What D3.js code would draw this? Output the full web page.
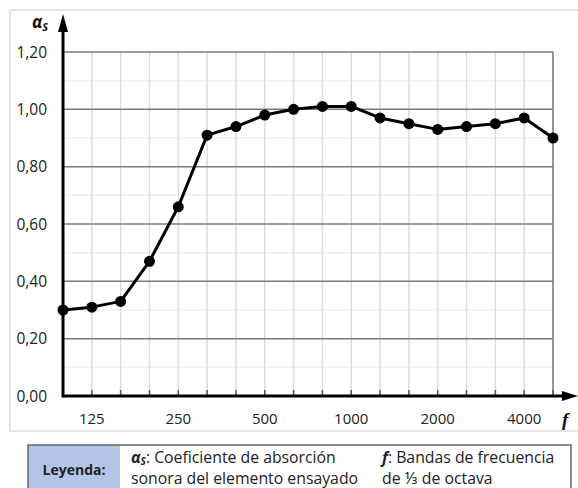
<!DOCTYPE html>
<html><head><meta charset="utf-8">
<script src="https://cdn.jsdelivr.net/npm/d3@7"></script>
<style>body{margin:0;background:#fff}svg{display:block;font-family:"Open Sans","Noto Sans",sans-serif}</style>
</head><body>
<script>
const bands = ["100","125","160","200","250","315","400","500","630","800","1000","1250","1600","2000","2500","3150","4000","5000"];
const alphaS = [0.30,0.31,0.33,0.47,0.66,0.91,0.94,0.98,1.00,1.01,1.01,0.97,0.95,0.93,0.94,0.95,0.97,0.90];
const xLabels = ["125","250","500","1000","2000","4000"];
const yTicks = [0,0.2,0.4,0.6,0.8,1.0,1.2];
const yMinor = [0.1,0.3,0.5,0.7,0.9,1.1];

const W=578,H=488;
const svg=d3.select("body").append("svg").attr("width",W).attr("height",H);
const L=63,R=553,T=52,B=396;
const x=d3.scalePoint().domain(bands).range([L,R]);
const y=d3.scaleLinear().domain([0,1.2]).range([B,T]);

// outer frame
svg.append("path").attr("d",`M10,10 H578 M10,10 V431 H578`).attr("fill","none").attr("stroke","#e4e4e4").attr("stroke-width",2);

// minor horizontal grid
svg.append("g").selectAll("line").data(yMinor).join("line")
 .attr("x1",L).attr("x2",R).attr("y1",d=>y(d)).attr("y2",d=>y(d)).attr("stroke","#efefef").attr("stroke-width",1.5);
// vertical grid
svg.append("g").selectAll("line").data(bands.slice(1)).join("line")
 .attr("x1",d=>x(d)).attr("x2",d=>x(d)).attr("y1",T).attr("y2",B).attr("stroke","#dcdcdc").attr("stroke-width",1.5);
// major horizontal
svg.append("g").selectAll("line").data(yTicks.slice(1)).join("line")
 .attr("x1",L).attr("x2",R).attr("y1",d=>y(d)).attr("y2",d=>y(d)).attr("stroke","#7a7a7a").attr("stroke-width",1.5);
// right border
svg.append("line").attr("x1",R).attr("x2",R).attr("y1",T).attr("y2",B).attr("stroke","#7a7a7a").attr("stroke-width",1.5);
// x ticks
svg.append("g").selectAll("line").data(bands.slice(1)).join("line")
 .attr("x1",d=>x(d)).attr("x2",d=>x(d)).attr("y1",B-6).attr("y2",B).attr("stroke","#555").attr("stroke-width",1.5);

// axes
svg.append("line").attr("x1",L).attr("x2",566).attr("y1",B).attr("y2",B).attr("stroke","#000").attr("stroke-width",3);
svg.append("path").attr("d",`M578,${B} L562,${B-5} L562,${B+5} Z`).attr("fill","#000");
svg.append("line").attr("x1",L).attr("x2",L).attr("y1",30).attr("y2",B+1.5).attr("stroke","#000").attr("stroke-width",3);
svg.append("path").attr("d",`M${L},14 L${L-5},32 L${L+5},32 Z`).attr("fill","#000");

// y labels
svg.append("g").selectAll("text").data(yTicks).join("text")
 .attr("x",47).attr("y",d=>y(d)+5.5).attr("text-anchor","end").attr("font-size",15.5).attr("fill","#222")
 .text(d=>d3.format(".2f")(d).replace(".",","));
// x labels
svg.append("g").selectAll("text").data(xLabels).join("text")
 .attr("x",d=>x(d)).attr("y",424).attr("text-anchor","middle").attr("font-size",15).attr("fill","#222").text(d=>d);

// axis titles
const at=svg.append("text").attr("x",32).attr("y",28).attr("font-size",17).attr("font-weight","bold").attr("font-style","italic").attr("fill","#111");
at.append("tspan").text("α");
at.append("tspan").attr("font-size",11).attr("dy",3).text("S");
svg.append("text").attr("x",562).attr("y",426).attr("font-size",19).attr("font-weight","bold").attr("font-style","italic").attr("fill","#111").attr("font-family","Liberation Serif, serif").text("f");

// line
svg.append("path").datum(alphaS.map((v,i)=>[bands[i],v]))
 .attr("d",d3.line().x(d=>x(d[0])).y(d=>y(d[1]))).attr("fill","none").attr("stroke","#000").attr("stroke-width",3).attr("stroke-linejoin","round");
svg.append("g").selectAll("circle").data(alphaS).join("circle")
 .attr("cx",(d,i)=>x(bands[i])).attr("cy",d=>y(d)).attr("r",5.5).attr("fill","#000");

// legend
svg.append("rect").attr("x",28).attr("y",445).attr("width",92).attr("height",50).attr("fill","#b4c6e7");
svg.append("rect").attr("x",28).attr("y",445).attr("width",543).attr("height",50).attr("fill","none").attr("stroke","#666").attr("stroke-width",1.5);
svg.append("text").attr("x",74).attr("y",475).attr("text-anchor","middle").attr("font-size",14).attr("font-weight","bold").attr("fill","#222").text("Leyenda:");
const t1=svg.append("text").attr("x",131).attr("y",463).attr("font-size",15.8).attr("fill","#222");
t1.append("tspan").attr("font-weight","bold").attr("font-style","italic").text("α");
t1.append("tspan").attr("font-weight","bold").attr("font-style","italic").attr("font-size",10).attr("dy",2).text("S");
t1.append("tspan").attr("dy",-2).text(": Coeficiente de absorción");
svg.append("text").attr("x",131).attr("y",484).attr("font-size",15.8).attr("fill","#222").text("sonora del elemento ensayado");
const t2=svg.append("text").attr("x",382).attr("y",463).attr("font-size",15.8).attr("fill","#222");
t2.append("tspan").attr("font-weight","bold").attr("font-style","italic").text("f");
t2.append("tspan").text(": Bandas de frecuencia");
svg.append("text").attr("x",382).attr("y",484).attr("font-size",15.8).attr("fill","#222").text("de ⅓ de octava");
</script>
</body></html>
